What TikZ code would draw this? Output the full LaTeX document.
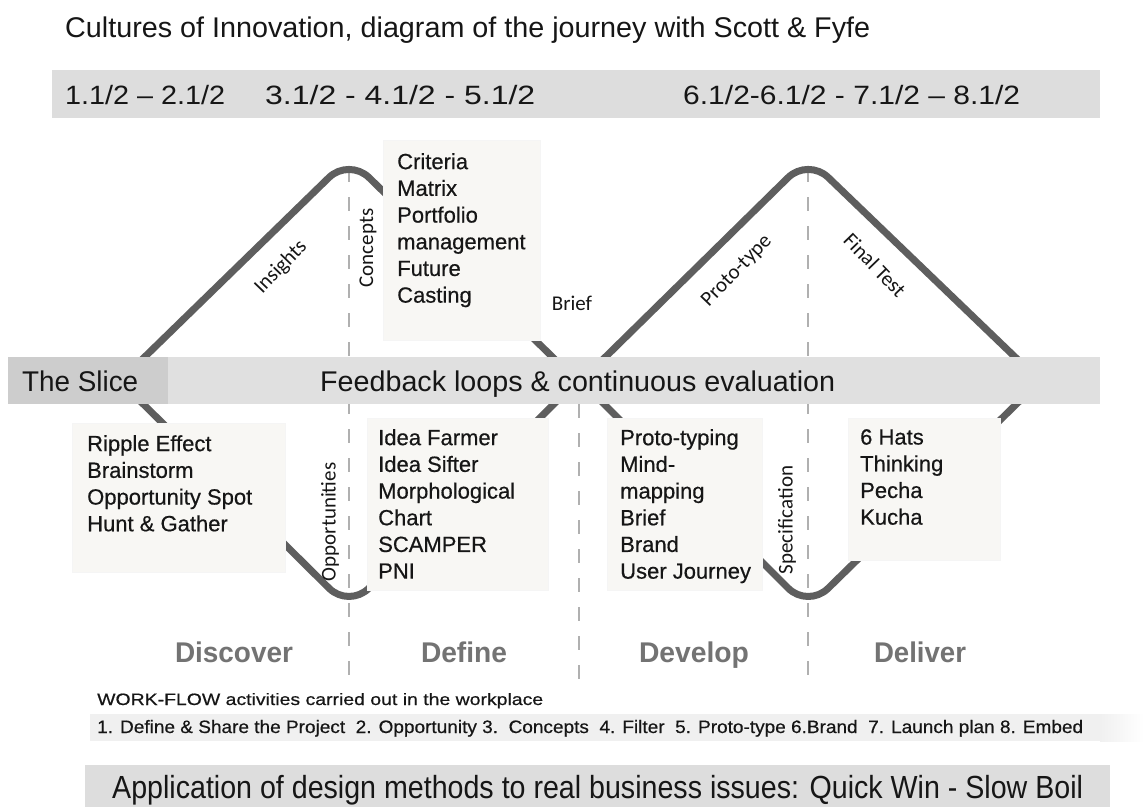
\documentclass[tikz,border=0pt]{standalone}
\usepackage{fontspec}
\setmainfont{Liberation Sans}
\newfontfamily\calfont{Carlito}
\newfontfamily\heavyfont[FakeBold=0.5]{Liberation Sans}
\usepackage{graphicx}
\definecolor{bandgray}{RGB}{221,221,221}
\definecolor{midgray}{RGB}{224,224,224}
\definecolor{slicegray}{RGB}{205,205,205}
\definecolor{linegray}{RGB}{94,94,94}
\definecolor{dashgray}{RGB}{176,176,176}
\definecolor{boxfill}{RGB}{248,247,244}
\definecolor{stagegray}{RGB}{115,115,115}
\definecolor{ink}{RGB}{22,22,22}
\definecolor{rowgray}{RGB}{240,240,240}
\newcommand{\fitto}[2]{\resizebox{#1pt}{\height}{#2}}
\begin{document}
\begin{tikzpicture}[x=1pt,y=-1pt,
  wave/.style={draw=linegray, line width=7pt, rounded corners=28pt},
  guide/.style={draw=dashgray, line width=2.6pt, dash pattern=on 14pt off 15pt},
  card/.style={fill=boxfill, draw=black!4, line width=1pt},
  txt/.style={inner sep=0pt, text=ink},
  list/.style={txt, align=left, font=\heavyfont\fontsize{22}{26.7}\selectfont, anchor=north west},
  cal/.style={txt, font=\calfont\fontsize{21}{24}\selectfont},
  stage/.style={txt, anchor=base, text=stagegray},
]
\useasboundingbox (0,0) rectangle (1144,807);
\fill[white] (0,0) rectangle (1144,807);

% guides
\draw[guide] (349,168) -- (349,682);
\draw[guide] (808,168) -- (808,682);
\draw[guide] (579,404) -- (579,682);

% diamonds
\draw[wave] (120,381) -- (349,158) -- (577,381) -- (349,608) -- cycle;
\draw[wave] (581,381) -- (808,158) -- (1040,381) -- (808,608) -- cycle;

% bands
\fill[bandgray] (52,70) rectangle (1100,118);
\fill[midgray] (168,357) rectangle (1100,404);
\fill[slicegray] (8,357) rectangle (168,404);
\fill[rowgray] (90,714) rectangle (1100,741);
\shade[left color=rowgray, right color=white] (1100,714) rectangle (1144,741);
\fill[bandgray] (85,765) rectangle (1110,807);

% cards
\filldraw[card] (383,140) rectangle (540,340);
\filldraw[card] (72,423) rectangle (285,572);
\filldraw[card] (367,418) rectangle (548,590);
\filldraw[card] (607,418) rectangle (762,590);
\filldraw[card] (848,418) rectangle (1000,560);

% title and top band
\node[txt, anchor=base west] (title) at (65,37) {\fitto{805}{\fontsize{28.5}{32}\selectfont Cultures of Innovation, diagram of the journey with Scott \& Fyfe}};
\node[txt, anchor=base west] (r1) at (65,104) {\fitto{160}{\fontsize{26.5}{30}\selectfont 1.1/2 – 2.1/2}};
\node[txt, anchor=base west] (r2) at (265,104) {\fitto{270}{\fontsize{26.5}{30}\selectfont 3.1/2 - 4.1/2 - 5.1/2}};
\node[txt, anchor=base west] (r3) at (683,104) {\fitto{337}{\fontsize{26.5}{30}\selectfont 6.1/2-6.1/2 - 7.1/2 – 8.1/2}};

% middle band
\node[txt, anchor=base west] (slice) at (22,391) {\fitto{116}{\fontsize{28.5}{32}\selectfont The Slice}};
\node[txt, anchor=base west] (feedback) at (320,391) {\fitto{515}{\fontsize{28.5}{32}\selectfont Feedback loops \& continuous evaluation}};

% lists
\node[list] (concepts list) at (397,153) {Criteria\\Matrix\\Portfolio\\management\\Future\\Casting};
\node[list] (ripple) at (87,435) {Ripple Effect\\Brainstorm\\Opportunity Spot\\Hunt \& Gather};
\node[list] (define list) at (378,429) {Idea Farmer\\Idea Sifter\\Morphological\\Chart\\SCAMPER\\PNI};
\node[list] (develop list) at (620,429) {Proto-typing\\Mind-\\mapping\\Brief\\Brand\\User Journey};
\node[list] (deliver list) at (860,429) {6 Hats\\Thinking\\Pecha\\Kucha};

% rotated labels
\node[cal, rotate=46] (insights) at (281,267) {Insights};
\node[cal, rotate=90] (concepts) at (368,248) {Concepts};
\node[cal] (brief) at (572,303) {Brief};
\node[cal, rotate=46] (prototype) at (737,271) {Proto-type};
\node[cal, rotate=-46] (finaltest) at (875,265) {Final Test};
\node[cal, rotate=90] (opps) at (330,522) {Opportunities};
\node[cal, rotate=90] (spec) at (787,520) {Specification};

% stages
\node[stage] (discover) at (234,662) {\fitto{118}{\bfseries\fontsize{28.5}{32}\selectfont Discover}};
\node[stage] (define) at (464,662) {\fitto{86}{\bfseries\fontsize{28.5}{32}\selectfont Define}};
\node[stage] (develop) at (694,662) {\fitto{110}{\bfseries\fontsize{28.5}{32}\selectfont Develop}};
\node[stage] (deliver) at (920,662) {\fitto{92}{\bfseries\fontsize{28.5}{32}\selectfont Deliver}};

% bottom
\node[txt, anchor=base west] (workflow) at (97,705) {\fitto{446}{\heavyfont\fontsize{16.5}{19}\selectfont WORK-FLOW activities carried out in the workplace}};
\node[txt, anchor=base west] (steps) at (97,733) {\fitto{986}{\heavyfont\fontsize{18}{21}\selectfont 1. Define \& Share the Project\ \ 2. Opportunity 3.\ \ Concepts\ \ 4. Filter\ \ 5. Proto-type 6.Brand\ \ 7. Launch plan 8. Embed}};
\node[txt, anchor=base west] (application) at (112,798) {\fitto{971}{\fontsize{32}{36}\selectfont Application of design methods to real business issues: Quick Win - Slow Boil}};
\end{tikzpicture}
\end{document}
